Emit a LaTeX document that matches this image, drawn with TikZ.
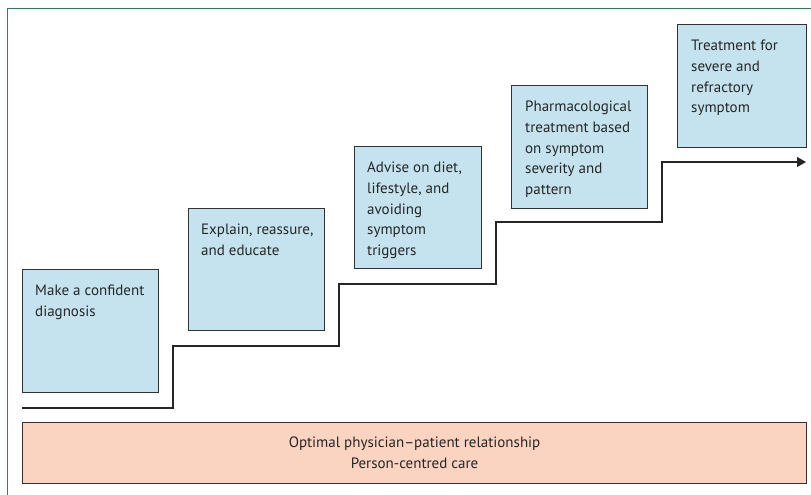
\documentclass[tikz,border=0pt]{standalone}
\usepackage{fontspec}
\setmainfont{PT Sans}
\usetikzlibrary{arrows.meta}
\definecolor{boxblue}{HTML}{C5E3EE}
\definecolor{boxpeach}{HTML}{FBD3C1}
\definecolor{frameg}{HTML}{2E7D5B}
\definecolor{edge}{HTML}{333333}
\begin{document}
\begin{tikzpicture}[x=1pt,y=-1pt,
  stepbox/.style={draw=edge,line width=1.1pt,fill=boxblue,anchor=north west,inner sep=0pt},
  steptext/.style={anchor=north west,align=left,inner sep=0pt,font=\fontsize{15}{20.7}\selectfont,text=black!85},
  basebox/.style={draw=edge,line width=1.1pt,fill=boxpeach,anchor=north west,inner sep=0pt},
  stair/.style={draw=black!85,line width=1.3pt}]
\useasboundingbox (0,0) rectangle (811,495);
\draw[frameg,line width=1pt] (7,495) -- (7,9) -- (811,9);

\node[stepbox,minimum width=136pt,minimum height=123pt] (b1) at (22,269) {};
\node[steptext] (t1) at (35,285) {Make a confident\\diagnosis};
\node[stepbox,minimum width=136pt,minimum height=122pt] (b2) at (188,208) {};
\node[steptext] (t2) at (201,224) {Explain, reassure,\\and educate};
\node[stepbox,minimum width=127pt,minimum height=122pt] (b3) at (354,146) {};
\node[steptext] (t3) at (367,162) {Advise on diet,\\lifestyle, and\\avoiding\\symptom\\triggers};
\node[stepbox,minimum width=136pt,minimum height=123pt] (b4) at (511,85) {};
\node[steptext] (t4) at (525,101) {Pharmacological\\treatment based\\on symptom\\severity and\\pattern};
\node[stepbox,minimum width=129pt,minimum height=123pt] (b5) at (677,24) {};
\node[steptext] (t5) at (691,40) {Treatment for\\severe and\\refractory\\symptom};

\node[basebox,minimum width=784pt,minimum height=61pt] (base) at (22,422) {};
\node[align=center,font=\fontsize{15}{20.7}\selectfont,text=black!85] (bt) at (base.center) {Optimal physician–patient relationship\\Person-centred care};

\coordinate (s0) at (22,408);
\coordinate (s1) at (173,408);
\coordinate (s2) at (173,346);
\coordinate (s3) at (339,346);
\coordinate (s4) at (339,284);
\coordinate (s5) at (496,284);
\coordinate (s6) at (496,222);
\coordinate (s7) at (662,222);
\coordinate (s8) at (662,162);
\coordinate (s9) at (806,162);
\draw[stair,-{Triangle[length=9pt,width=10pt]}] (s0) -- (s1) -- (s2) -- (s3) -- (s4) -- (s5) -- (s6) -- (s7) -- (s8) -- (s9);
\end{tikzpicture}
\end{document}
